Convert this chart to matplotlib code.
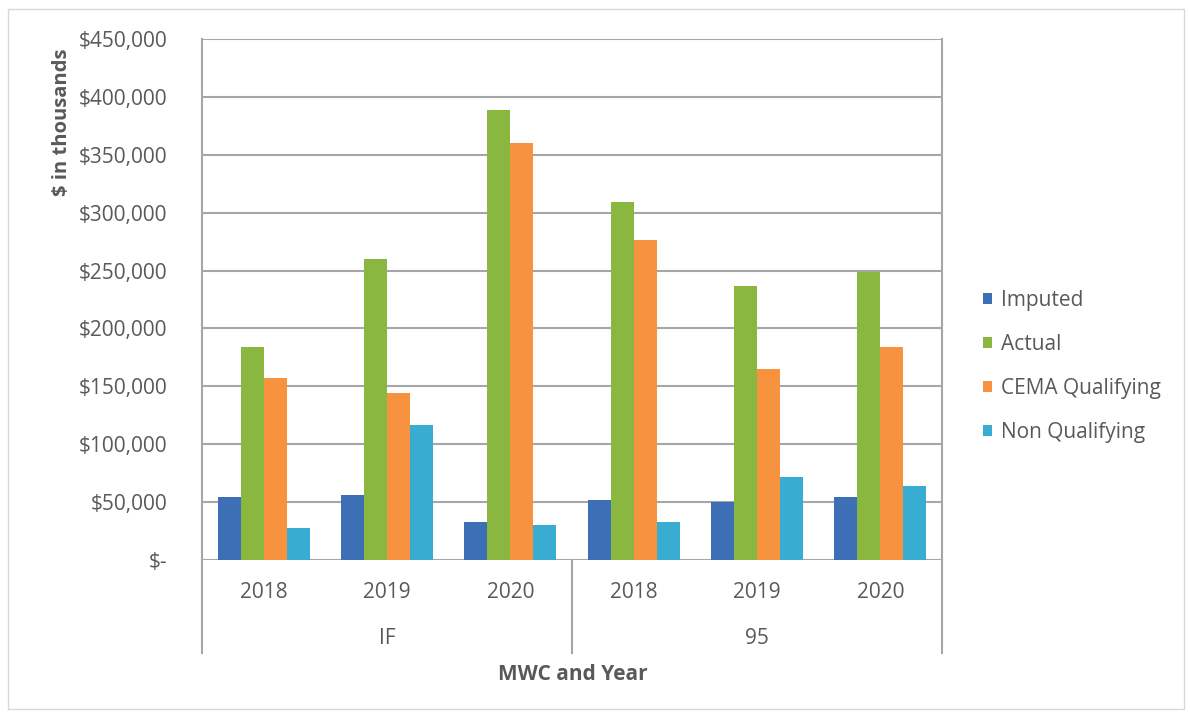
import numpy as np
import matplotlib.pyplot as plt
from matplotlib.ticker import FuncFormatter

plt.rcParams['font.family'] = ['Open Sans', 'DejaVu Sans']

groups = ['IF', '95']
years = ['2018', '2019', '2020']
series = ['Imputed', 'Actual', 'CEMA Qualifying', 'Non Qualifying']
colors = ['#3D6FB6', '#8AB73F', '#F7923F', '#38ADD1']

imputed = [54000, 56000, 32500, 51500, 50000, 54000]
actual = [184000, 260000, 389000, 309000, 237000, 249000]
cema = [157000, 144000, 360000, 276000, 165000, 184000]
non_qual = [28000, 117000, 30000, 32500, 72000, 63500]
values = [imputed, actual, cema, non_qual]

grid_c = '#A6A6A6'
text_c = '#595959'

fig = plt.figure(figsize=(11.9, 7.15), dpi=100)
ax = fig.add_axes([202 / 1190, 155 / 715, 740 / 1190, 521 / 715])

n = len(groups) * len(years)
x = np.arange(n)
w = 0.187
for i, (name, vals) in enumerate(zip(series, values)):
    ax.bar(x + (i - 1.5) * w, vals, width=w, color=colors[i], label=name, zorder=3)

ax.set_xlim(-0.5, n - 0.5)
ax.set_ylim(0, 450000)
ax.set_yticks(np.arange(0, 450001, 50000))
ax.yaxis.set_major_formatter(FuncFormatter(lambda v, p: '$-' if v == 0 else '${:,.0f}'.format(v)))
ax.grid(axis='y', color=grid_c, linewidth=1.5, zorder=0)
ax.tick_params(axis='y', length=0, pad=25, labelsize=15, labelcolor=text_c)
ax.tick_params(axis='x', length=0, pad=16, labelsize=15, labelcolor=text_c)
ax.set_xticks(x)
ax.set_xticklabels(years * len(groups))
for s in ['top', 'bottom']:
    ax.spines[s].set_visible(False)
for s in ['left', 'right']:
    ax.spines[s].set_color(grid_c)
    ax.spines[s].set_linewidth(1.5)

# group labels and the separators below the axis
trans = ax.get_xaxis_transform()
for g, name in enumerate(groups):
    ax.text(g * 3 + 1, -0.151, name, transform=trans, ha='center', va='center',
            fontsize=15, color=text_c)
for xs in [-0.5, 2.5, 5.5]:
    ax.plot([xs, xs], [0, -0.178], transform=trans, color=grid_c, lw=1.5, clip_on=False)

fig.text(573 / 1190, 1 - 675 / 715, 'MWC and Year', ha='center', va='center',
         fontsize=15, fontweight='bold', color=text_c)
fig.text(62 / 1190, 1 - 122 / 715, '$ in thousands', rotation=90, ha='center', va='center',
         fontsize=14.5, fontweight='bold', color=text_c)

leg = ax.legend(loc='center left', bbox_to_anchor=(1.03, 0.372), frameon=False,
                fontsize=15, handlelength=0.45, handleheight=0.45, handletextpad=0.4,
                labelspacing=1.1, labelcolor=text_c)

# chart area border
fig.patches.append(plt.Rectangle((8 / 1190, 6 / 715), 1176 / 1190, 700 / 715,
                                 transform=fig.transFigure, fill=False,
                                 edgecolor='#D9D9D9', lw=1))

fig.savefig('out.png', dpi=100)
